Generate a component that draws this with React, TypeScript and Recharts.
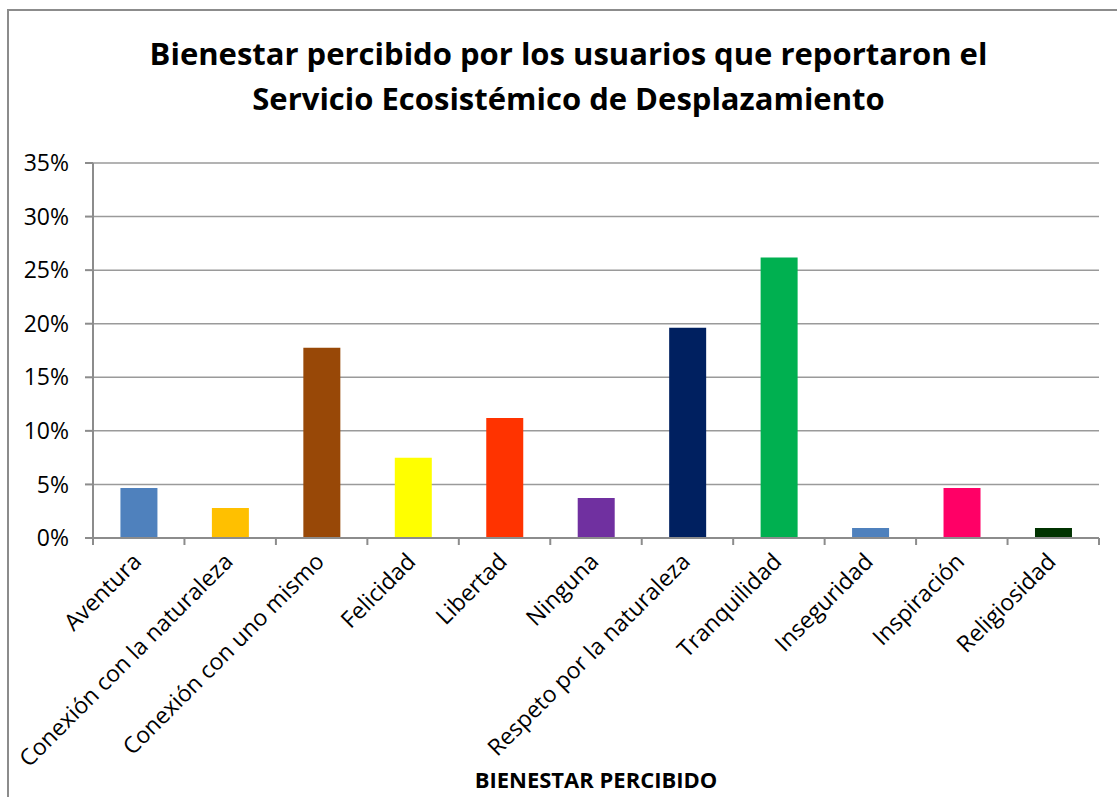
import { BarChart, Bar, XAxis, YAxis, CartesianGrid, Cell } from "recharts";

const categories = [
  "Aventura",
  "Conexión con la naturaleza",
  "Conexión con uno mismo",
  "Felicidad",
  "Libertad",
  "Ninguna",
  "Respeto por la naturaleza",
  "Tranquilidad",
  "Inseguridad",
  "Inspiración",
  "Religiosidad",
];

// share of users (n = 107)
const shares = [0.0467, 0.028, 0.1776, 0.0748, 0.1121, 0.0374, 0.1963, 0.2617, 0.0093, 0.0467, 0.0093];

const barColors = [
  "#4F81BD",
  "#FFC000",
  "#984807",
  "#FFFF00",
  "#FF3300",
  "#7030A0",
  "#002060",
  "#00B050",
  "#4F81BD",
  "#FF0066",
  "#003300",
];

const yTicks = [0, 0.05, 0.1, 0.15, 0.2, 0.25, 0.3, 0.35];

const FONT = "'Open Sans', 'Noto Sans', sans-serif";
const AXIS_GRAY = "#8c8c8c";

const data = categories.map((name, i) => ({ name, value: shares[i] }));

function CategoryTick(props: any) {
  const { x, y, payload, index } = props;
  const off = payload.offset || 0;
  const lx = x + 4;
  const ly = y + 25;
  return (
    <g>
      <line x1={x - off} x2={x - off} y1={y} y2={y + 7} stroke={AXIS_GRAY} strokeWidth={2} />
      {index === data.length - 1 && (
        <line x1={x + off} x2={x + off} y1={y} y2={y + 7} stroke={AXIS_GRAY} strokeWidth={2} />
      )}
      <text
        x={lx}
        y={ly}
        transform={`rotate(-45, ${lx}, ${ly})`}
        textAnchor="end"
        fontSize={23}
        fontFamily={FONT}
        fill="#000"
      >
        {payload.value}
      </text>
    </g>
  );
}

export default function App() {
  return (
    <div
      style={{
        position: "absolute",
        left: 0,
        top: 0,
        width: 1117,
        height: 797,
        overflow: "hidden",
        background: "#fff",
        fontFamily: FONT,
      }}
    >
      {/* chart frame, right and bottom edges fall outside the picture */}
      <div
        style={{
          position: "absolute",
          left: 7,
          top: 9,
          width: 1130,
          height: 810,
          border: "2px solid #8c8c8c",
        }}
      />

      <div
        style={{
          position: "absolute",
          left: 0,
          top: 31,
          width: 1137,
          textAlign: "center",
          fontWeight: 700,
          fontSize: 31,
          lineHeight: "45px",
          color: "#000",
        }}
      >
        Bienestar percibido por los usuarios que reportaron el
        <br />
        Servicio Ecosistémico de Desplazamiento
      </div>

      <div style={{ position: "absolute", left: 0, top: 0 }}>
        <BarChart
          width={1117}
          height={797}
          data={data}
          margin={{ top: 163, right: 18, left: 0, bottom: 0 }}
          barCategoryGap="30%"
        >
          <CartesianGrid vertical={false} stroke="#9a9a9a" strokeWidth={1.5} />
          <XAxis
            dataKey="name"
            interval={0}
            height={259}
            tickSize={0}
            tickMargin={0}
            tick={<CategoryTick />}
            axisLine={{ stroke: AXIS_GRAY, strokeWidth: 2 }}
            tickLine={false}
          />
          <YAxis
            width={93}
            domain={[0, 0.35]}
            ticks={yTicks}
            interval={0}
            tickFormatter={(v: number) => `${Math.round(v * 100)}%`}
            tickSize={8}
            tickMargin={16}
            tick={{ fontSize: 23, fontFamily: FONT, fill: "#000" }}
            tickLine={{ stroke: AXIS_GRAY, strokeWidth: 2 }}
            axisLine={{ stroke: AXIS_GRAY, strokeWidth: 2 }}
          />
          <Bar dataKey="value" isAnimationActive={false}>
            {data.map((_, i) => (
              <Cell key={i} fill={barColors[i]} />
            ))}
          </Bar>
        </BarChart>
      </div>

      <div
        style={{
          position: "absolute",
          left: 0,
          top: 765,
          width: 1192,
          textAlign: "center",
          fontWeight: 700,
          fontSize: 22,
          lineHeight: "28px",
          color: "#000",
        }}
      >
        BIENESTAR PERCIBIDO
      </div>
    </div>
  );
}
